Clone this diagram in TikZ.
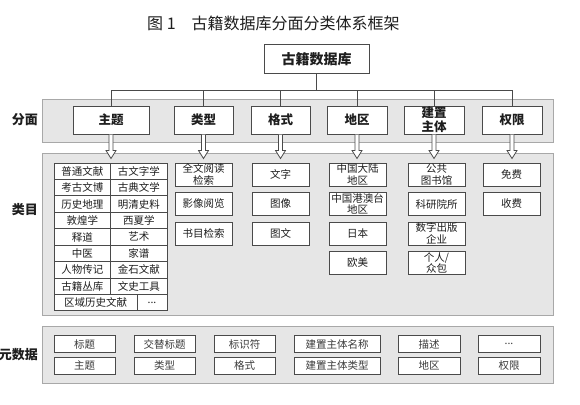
\documentclass[tikz,border=0pt]{standalone}
\usepackage{fontspec}
\newfontfamily\cjk{Noto Sans CJK SC}
\usetikzlibrary{calc}
\definecolor{bandfill}{HTML}{E6E6E6}
\definecolor{bandline}{HTML}{A8A8A8}
\definecolor{boxline}{HTML}{4A4A4A}
\definecolor{txt}{HTML}{1E1E1E}
\definecolor{metatxt}{HTML}{3A3A3A}
\newcommand\hollowdown[1]{\draw[harrow] (#1.south) ++(-2,0) -- ++(0,16) -- ++(-3,0) -- ++(5,8) -- ++(5,-8) -- ++(-3,0) -- ++(0,-16);}
\begin{document}
\begin{tikzpicture}[x=1pt,y=-1pt,
  band/.style={draw=bandline, fill=bandfill, line width=1pt},
  conn/.style={draw=boxline, line width=1pt},
  harrow/.style={draw=boxline, fill=white, line width=0.8pt, line join=miter},
  boxbase/.style={draw=boxline, fill=white, line width=1pt, inner sep=0pt, align=center, text=txt},
  topbox/.style={boxbase, minimum width=105, minimum height=28, font=\cjk\bfseries\fontsize{14}{16}\selectfont},
  facet/.style={boxbase, minimum width=#1, minimum height=28, font=\cjk\bfseries\fontsize{12.5}{14}\selectfont},
  cell/.style={boxbase, minimum width=#1, minimum height=16.44, font=\cjk\fontsize{10.5}{12}\selectfont},
  cat/.style={boxbase, minimum width=57, minimum height=23, font=\cjk\fontsize{10.5}{11.5}\selectfont},
  meta/.style={boxbase, minimum width=#1, minimum height=17, text=metatxt, font=\cjk\fontsize{10.5}{12}\selectfont},
  side/.style={anchor=east, inner sep=0pt, text=txt, font=\cjk\bfseries\fontsize{13}{15}\selectfont},
]
\useasboundingbox (0,0) rectangle (580,404);
\fill[white] (0,0) rectangle (580,404);

% title
\node[anchor=west, inner sep=0pt, text=txt, font=\cjk\fontsize{16}{18}\selectfont] (title) at (147,23) {图 1\quad 古籍数据库分面分类体系框架};

% bands
\path[band] (42,99) rectangle (553,142);
\path[band] (42,153) rectangle (553,315);
\path[band] (42,326) rectangle (553,383);

% side labels
\node[side] (lf) at (38,120) {分面};
\node[side] (lc) at (38,210) {类目};
\node[side] (lm) at (38,355) {元数据};

% top
\node[topbox] (top) at (316.5,59) {古籍数据库};

% facets
\node[facet=76] (f1) at (111,120) {主题};
\node[facet=59] (f2) at (203.5,120) {类型};
\node[facet=59] (f3) at (280.5,120) {格式};
\node[facet=60] (f4) at (357,120) {地区};
\node[facet=60] (f5) at (434,120) {建置\\主体};
\node[facet=60] (f6) at (512,120) {权限};

\coordinate (bus) at (316.5,90);
\draw[conn] (top.south) -- (bus);
\foreach \f in {f1,f2,f3,f4,f5,f6} {\draw[conn] (bus) -| (\f.north);}

% hollow arrows
\foreach \f in {f1,f2,f3,f4,f5,f6} {\hollowdown{\f}}

% topic grid
\foreach \l/\r [count=\i] in {普通文献/古文字学, 考古文博/古典文学, 历史地理/明清史料, 敦煌学/西夏学, 释道/艺术, 中医/家谱, 人物传记/金石文献, 古籍丛库/文史工具} {
  \node[cell=56.5] (tl\i) at (82.25,{163+(\i-0.5)*16.444}) {\l};
  \node[cell=56.5] (tr\i) at (138.75,{163+(\i-0.5)*16.444}) {\r};
}
\node[cell=83] (tl9) at (95.5,{163+8.5*16.444}) {区域历史文献};
\node[cell=30] (tr9) at (152,{163+8.5*16.444}) {...};

% type
\node[cat] (t1) at (203.5,174.5) {全文阅读\\检索};
\node[cat] (t2) at (203.5,204) {影像阅览};
\node[cat] (t3) at (203.5,233.5) {书目检索};
% format
\node[cat] (g1) at (280.5,174.5) {文字};
\node[cat] (g2) at (280.5,204) {图像};
\node[cat] (g3) at (280.5,233.5) {图文};
% region
\node[cat] (r1) at (357.5,174.5) {中国大陆\\地区};
\node[cat] (r2) at (357.5,204) {中国港澳台\\地区};
\node[cat] (r3) at (357.5,233.5) {日本};
\node[cat] (r4) at (357.5,263) {欧美};
% builder
\node[cat] (b1) at (436.5,174.5) {公共\\图书馆};
\node[cat] (b2) at (436.5,204) {科研院所};
\node[cat] (b3) at (436.5,233.5) {数字出版\\企业};
\node[cat] (b4) at (436.5,263) {个人/\\众包};
% access
\node[cat] (a1) at (511.5,174.5) {免费};
\node[cat] (a2) at (511.5,204) {收费};

% metadata
\node[meta=61] (m1) at (84.5,344) {标题};
\node[meta=61] (m2) at (164.5,344) {交替标题};
\node[meta=61] (m3) at (244.5,344) {标识符};
\node[meta=86] (m4) at (337,344) {建置主体名称};
\node[meta=62] (m5) at (429,344) {描述};
\node[meta=62] (m6) at (509,344) {...};
\node[meta=61] (n1) at (84.5,365.5) {主题};
\node[meta=61] (n2) at (164.5,365.5) {类型};
\node[meta=61] (n3) at (244.5,365.5) {格式};
\node[meta=86] (n4) at (337,365.5) {建置主体类型};
\node[meta=62] (n5) at (429,365.5) {地区};
\node[meta=62] (n6) at (509,365.5) {权限};
\end{tikzpicture}
\end{document}
